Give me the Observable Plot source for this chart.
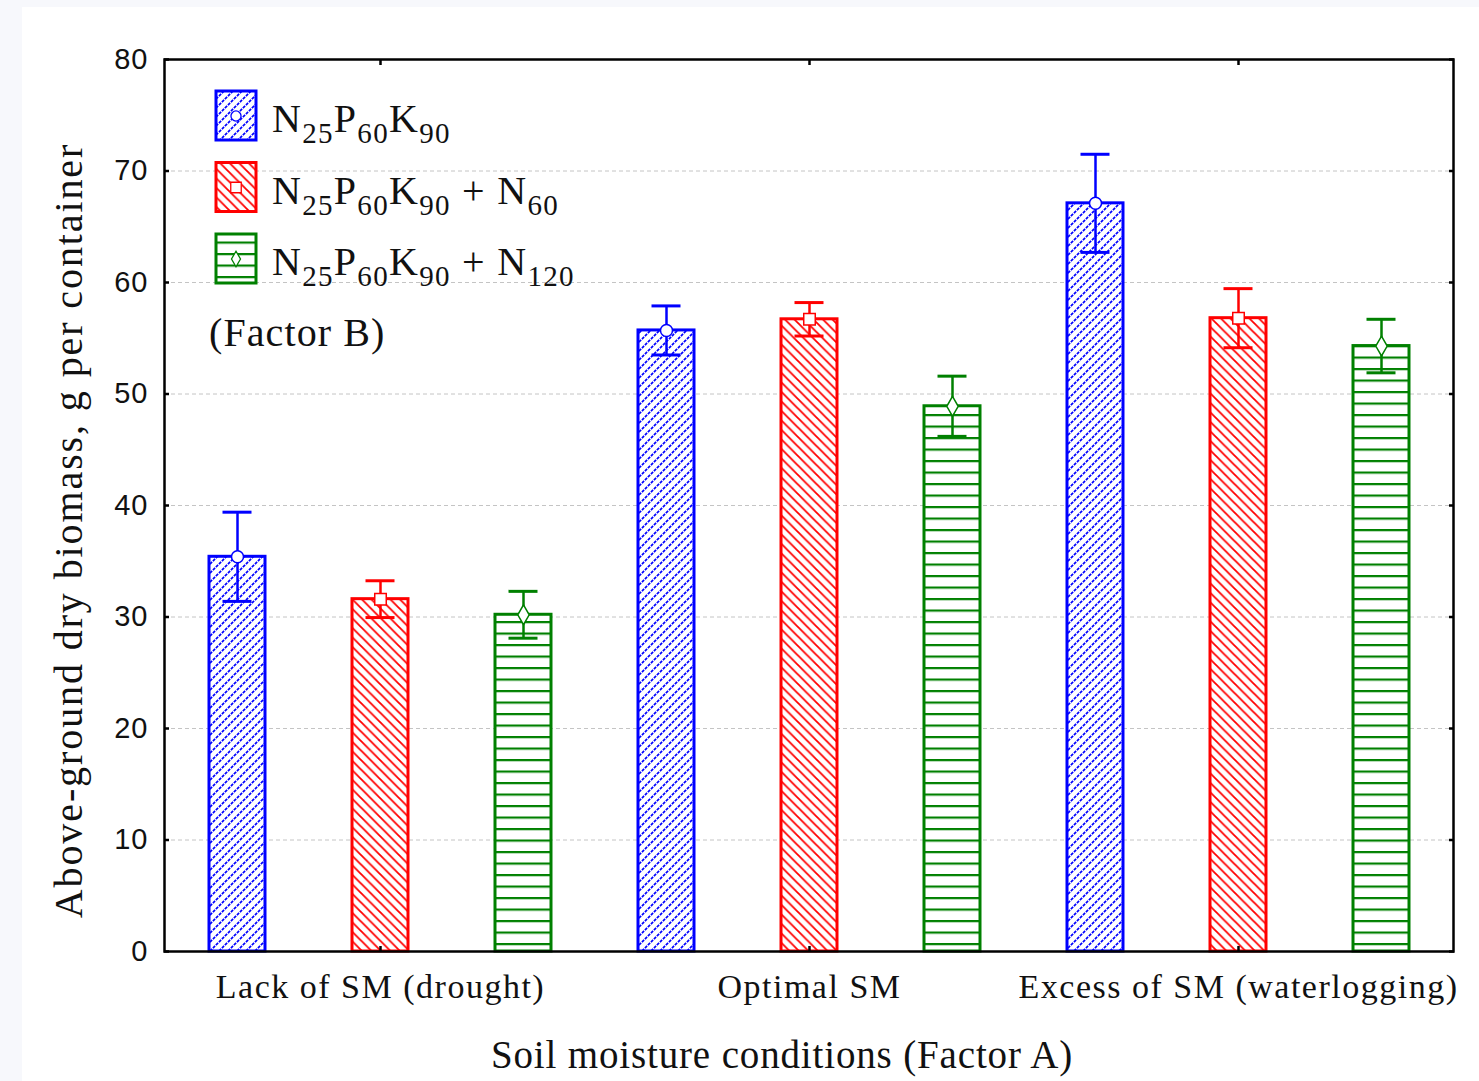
<!DOCTYPE html>
<html><head><meta charset="utf-8">
<script src="https://cdn.jsdelivr.net/npm/d3@7"></script>
<script src="https://cdn.jsdelivr.net/npm/@observablehq/plot@0.6"></script>
<style>
html,body{margin:0;padding:0;background:#f7f8fc;width:1479px;height:1081px;overflow:hidden}
#panel{position:absolute;left:22px;top:7px;right:0;bottom:0;background:#fff}
#chart{position:absolute;left:0;top:0}
</style></head><body><div id="panel"></div><div id="chart"></div>
<script>
// ---- data ----
const groups = ["Lack of SM (drought)", "Optimal SM", "Excess of SM (waterlogging)"];
const series = ["N25P60K90", "N25P60K90 + N60", "N25P60K90 + N120"];
const meanNPK = [35.4, 55.7, 67.1];
const meanN60 = [31.6, 56.7, 56.8];
const meanN120 = [30.2, 48.9, 54.3];
const errNPK = [4.0, 2.2, 4.4];
const errN60 = [1.65, 1.5, 2.65];
const errN120 = [2.1, 2.7, 2.4];
const yTicks = [0, 10, 20, 30, 40, 50, 60, 70, 80];
const gridTicks = [10, 20, 30, 40, 50, 60, 70];

const colors = ["#0000ff", "#ff0000", "#008000"];
const symbols = ["circle", "square", "diamond"];
const means = [meanNPK, meanN60, meanN120];
const errs = [errNPK, errN60, errN120];

const rows = [];
groups.forEach((g, gi) => series.forEach((s, si) => rows.push({
  group: g, series: s, si, key: g + "|" + s, mean: means[si][gi], err: errs[si][gi]
})));
const keys = rows.map(d => d.key);
const midKeys = groups.map(g => g + "|" + series[1]);

const marks = [Plot.gridY(gridTicks, {stroke: "#c4c4c4", strokeOpacity: 1, strokeDasharray: "4,3", strokeWidth: 1})];
series.forEach((s, si) => {
  const data = rows.filter(d => d.si === si);
  marks.push(Plot.barY(data, {x: "key", y: "mean", fill: `url(#pat${si})`, stroke: colors[si], strokeWidth: 3}));
  marks.push(Plot.ruleX(data, {x: "key", y1: d => d.mean - d.err, y2: d => d.mean + d.err, stroke: colors[si], strokeWidth: 2.5}));
  marks.push(Plot.tickY(data, {x: "key", y: d => d.mean + d.err, stroke: colors[si], strokeWidth: 3, insetLeft: 13.5, insetRight: 13.5}));
  marks.push(Plot.tickY(data, {x: "key", y: d => d.mean - d.err, stroke: colors[si], strokeWidth: 3, insetLeft: 13.5, insetRight: 13.5}));
  marks.push(Plot.dot(data, {x: "key", y: "mean", symbol: symbols[si], r: si === 0 ? 6 : si === 1 ? 6.5 : 6, fill: "white", stroke: colors[si], strokeWidth: 1.5}));
});
marks.push(Plot.frame({stroke: "black", strokeWidth: 2.5}));
// inward ticks
marks.push(Plot.axisY({ticks: yTicks, anchor: "left", tickSize: 5, dx: 5, tickFormat: () => "", strokeWidth: 2.5, label: null}));
marks.push(Plot.axisY({ticks: yTicks, anchor: "right", tickSize: 5, dx: -5, tickFormat: () => "", strokeWidth: 2.5, label: null}));
marks.push(Plot.axisX({ticks: midKeys, anchor: "top", tickSize: 5, dy: 5, tickFormat: () => "", strokeWidth: 2.5, label: null}));
marks.push(Plot.axisX({ticks: midKeys, anchor: "bottom", tickSize: 5, dy: -5, tickFormat: () => "", strokeWidth: 2.5, label: null}));
// labels
marks.push(Plot.axisY({ticks: yTicks, anchor: "left", tickSize: 0, tickPadding: 16, fontSize: 29, fontFamily: "Liberation Sans, Arial, sans-serif", fill: "#111", label: null}));
marks.push(Plot.axisX({ticks: midKeys, anchor: "bottom", tickSize: 0, tickPadding: 22, tickFormat: k => k.split("|")[0], fontSize: 34, fill: "#111", label: null}));
marks.push(Plot.text(["Soil moisture conditions (Factor A)"], {frameAnchor: "bottom", textAnchor: "middle", dx: -27, dy: 104, fontSize: 39, fill: "#111", lineAnchor: "middle"}));
marks.push(Plot.text(["Above-ground dry biomass, g per container"], {frameAnchor: "left", textAnchor: "middle", rotate: -90, dx: -95, dy: 25, fontSize: 40, fill: "#111", lineAnchor: "middle"}));

const svg = Plot.plot({
  width: 1479, height: 1081,
  marginLeft: 164, marginRight: 26, marginTop: 59, marginBottom: 130,
  style: {background: "transparent", fontFamily: "'Liberation Serif', 'Times New Roman', serif", overflow: "visible"},
  x: {type: "band", domain: keys, paddingInner: 0.61, paddingOuter: 0.305, label: null},
  y: {domain: [0, 80], label: null},
  marks
});
document.getElementById("chart").appendChild(svg);

const sel = d3.select(svg);
sel.selectAll('g[aria-label="x-axis tick label"] text').attr("letter-spacing", 1.5);
sel.selectAll('g[aria-label="y-axis tick label"] text').attr("letter-spacing", 1);
sel.selectAll('g[aria-label="text"] text').each(function() {
  const t = d3.select(this).text();
  d3.select(this).attr("letter-spacing", t.startsWith("Above") ? 1.9 : 0.85);
});

// patterns
const defs = sel.insert("defs", ":first-child");
const p0 = defs.append("pattern").attr("id", "pat0").attr("patternUnits", "userSpaceOnUse").attr("width", 9).attr("height", 9);
p0.append("rect").attr("width", 9).attr("height", 9).attr("fill", "white");
p0.append("path").attr("d", "M-2,2 L2,-2 M0,9 L9,0 M7,11 L11,7").attr("stroke", colors[0]).attr("stroke-width", 1.7).attr("stroke-dasharray", "3,1.2");
const p1 = defs.append("pattern").attr("id", "pat1").attr("patternUnits", "userSpaceOnUse").attr("width", 9.5).attr("height", 9.5);
p1.append("rect").attr("width", 9.5).attr("height", 9.5).attr("fill", "white");
p1.append("path").attr("d", "M-2,7.5 L2,11.5 M0,0 L9.5,9.5 M7.5,-2 L11.5,2").attr("stroke", colors[1]).attr("stroke-width", 1.8);
const p2 = defs.append("pattern").attr("id", "pat2").attr("patternUnits", "userSpaceOnUse").attr("width", 10).attr("height", 11.5);
p2.append("rect").attr("width", 10).attr("height", 11.5).attr("fill", "white");
p2.append("rect").attr("y", 0).attr("width", 10).attr("height", 2.2).attr("fill", colors[2]);

// legend (Factor B)
const leg = sel.append("g").attr("font-family", "'Liberation Serif', 'Times New Roman', serif").attr("fill", "#111").attr("text-anchor", "start");
const labels = [
  [["N", 0], ["25", 1], ["P", 0], ["60", 1], ["K", 0], ["90", 1]],
  [["N", 0], ["25", 1], ["P", 0], ["60", 1], ["K", 0], ["90", 1], [" + N", 0], ["60", 1]],
  [["N", 0], ["25", 1], ["P", 0], ["60", 1], ["K", 0], ["90", 1], [" + N", 0], ["120", 1]]
];
const symTypes = [d3.symbolCircle, d3.symbolSquare, d3.symbolDiamond];
labels.forEach((parts, i) => {
  const y0 = 91 + i * 71.5;
  leg.append("rect").attr("x", 216).attr("y", y0).attr("width", 40).attr("height", 49)
    .attr("fill", `url(#pat${i})`).attr("stroke", colors[i]).attr("stroke-width", 3);
  leg.append("path").attr("transform", `translate(236,${y0 + 25})`)
    .attr("d", d3.symbol(symTypes[i], i === 0 ? 80 : i === 1 ? 110 : 70)())
    .attr("fill", "white").attr("stroke", colors[i]).attr("stroke-width", 1.3);
  const t = leg.append("text").attr("x", 272).attr("y", y0 + 41).attr("font-size", 40).attr("letter-spacing", 1.3).style("white-space", "pre");
  let sub = false;
  parts.forEach(([txt, s]) => {
    const ts = t.append("tspan").text(txt);
    if (s && !sub) { ts.attr("dy", 11).attr("font-size", 29); sub = true; }
    else if (s) { ts.attr("font-size", 29); }
    else if (!s && sub) { ts.attr("dy", -11); sub = false; }
  });
});
leg.append("text").attr("x", 209).attr("y", 346).attr("font-size", 40).attr("letter-spacing", 1.1).text("(Factor B)");
</script></body></html>
